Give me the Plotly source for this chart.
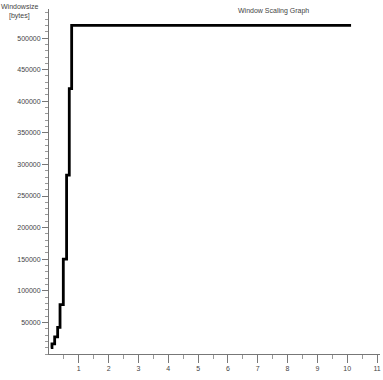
import plotly.graph_objects as go

# time [s] and window size [bytes]
time_s = [0.06, 0.10, 0.19, 0.29, 0.37, 0.48, 0.59, 0.68, 0.76, 10.13]
window_bytes = [10000, 16000, 27000, 42000, 78000, 150000, 283000, 420000, 520000, 520000]

y_tickvals = [50000, 100000, 150000, 200000, 250000, 300000, 350000, 400000, 450000, 500000]
x_tickvals = [1, 2, 3, 4, 5, 6, 7, 8, 9, 10, 11]

W, H = 383, 380
l, r, t, b = 49, 3, 9, 26
pw, ph = W - l - r, H - t - b

font = dict(family="Liberation Sans, Arial, sans-serif", size=7, color="#444")

fig = go.Figure()
fig.add_trace(go.Scatter(
    x=time_s, y=window_bytes, mode="lines",
    line=dict(color="black", width=2.8, shape="hv"),
    showlegend=False, hoverinfo="skip",
))

def ann(text, px, py):
    return dict(text=text, showarrow=False, font=font,
                xref="paper", yref="paper",
                x=(px - l) / pw, y=1 - (py - t) / ph,
                xanchor="center", yanchor="middle")

fig.update_layout(
    width=W, height=H,
    margin=dict(l=l, r=r, t=t, b=b),
    paper_bgcolor="white", plot_bgcolor="white",
    font=font,
    xaxis=dict(
        range=[0, 11.1], showgrid=False, zeroline=False,
        showline=True, linecolor="#777", linewidth=1,
        tickmode="array", tickvals=x_tickvals,
        ticks="outside", ticklen=8, tickcolor="#777", tickwidth=1,
        tickfont=font,
        minor=dict(tick0=0.5, dtick=1, ticks="outside", ticklen=4, tickcolor="#999", showgrid=False),
    ),
    yaxis=dict(
        range=[0, 546000], showgrid=False, zeroline=False,
        showline=True, linecolor="#777", linewidth=1,
        tickmode="array", tickvals=y_tickvals, tickformat="d",
        ticks="outside", ticklen=6, tickcolor="#777", tickwidth=1,
        tickfont=font,
        minor=dict(tick0=0, dtick=10000, ticks="outside", ticklen=3, tickcolor="#999", showgrid=False),
    ),
    annotations=[
        ann("Window Scaling Graph", 273, 11),
        ann("Windowsize", 20, 6),
        ann("[bytes]", 19, 16),
    ],
)

fig.write_html("out.html")
